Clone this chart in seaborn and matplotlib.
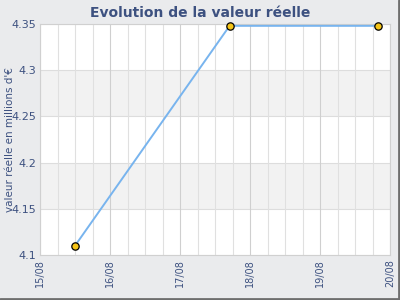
import matplotlib
matplotlib.use("Agg")
import matplotlib.pyplot as plt
import matplotlib.dates as mdates
from matplotlib.lines import Line2D
import seaborn as sns
import pandas as pd
import numpy as np

dates = ["2024-08-15 12:00", "2024-08-17 17:00", "2024-08-19 20:00"]
values = [4.11, 4.348, 4.348]
tick_labels = ["15/08", "16/08", "17/08", "18/08", "19/08", "20/08"]
title = "Evolution de la valeur réelle"
ylabel = "valeur réelle en millions d'€"

df = pd.DataFrame({"date": pd.to_datetime(dates), "value": values})

sns.set_theme(style="white")
plt.rcParams['font.family'] = ['DejaVu Sans']

bg = "#eaebed"
txt = "#3d5180"
fig = plt.figure(figsize=(4, 3), dpi=100, facecolor=bg)
ax = fig.add_axes([0.1, 0.15, 0.875, 0.77])
ax.set_facecolor("white")

x0 = pd.Timestamp("2024-08-15")
x1 = pd.Timestamp("2024-08-20")
ax.set_xlim(x0, x1)
ax.set_ylim(4.1, 4.35)

# alternating bands
yt = np.arange(4.1, 4.351, 0.05)
for i in range(len(yt) - 1):
    if i % 2 == 1:
        ax.axhspan(yt[i], yt[i + 1], color="#f2f2f2", zorder=0, lw=0)
for y in yt:
    ax.axhline(y, color="#dddddd", lw=0.8, zorder=0.5)
# vertical grid every 6h
g = pd.date_range(x0, x1, freq="6h")
for t in g:
    c = "#cfcfcf" if t.hour == 0 else "#e0e0e0"
    ax.axvline(t, color=c, lw=0.8, zorder=0.5)

sns.lineplot(data=df, x="date", y="value", ax=ax, color="#78b4ee", lw=1.4, zorder=3)
ax.scatter(df["date"], df["value"], s=28, color="#f5c518", edgecolor="black", linewidth=0.9, zorder=4, clip_on=False)

ticks = pd.date_range(x0, x1, freq="D")
ax.set_xticks(ticks)
ax.set_xticklabels(tick_labels, rotation=90, color=txt, fontsize=7)
ax.set_yticks(yt)
ax.set_yticklabels(["4.1", "4.15", "4.2", "4.25", "4.3", "4.35"], color=txt, fontsize=8)
ax.tick_params(axis="both", length=0, pad=3)
ax.set_xlabel("")
ax.set_ylabel(ylabel, color=txt, fontsize=7.5)
ax.yaxis.set_label_coords(-0.07, 0.5)
for s in ax.spines.values():
    s.set_color("#d0d0d0")
    s.set_linewidth(0.8)

fig.text(0.5, 0.957, title, ha="center", va="center", fontsize=10, fontweight="bold", color="#3d5180")

fig.add_artist(Line2D([0.997, 0.997], [0.0, 1.0], transform=fig.transFigure, color="#6e6e6e", lw=2))
fig.add_artist(Line2D([0.0, 1.0], [0.004, 0.004], transform=fig.transFigure, color="#6e6e6e", lw=2))

fig.savefig("out.png", dpi=100, facecolor=bg)
